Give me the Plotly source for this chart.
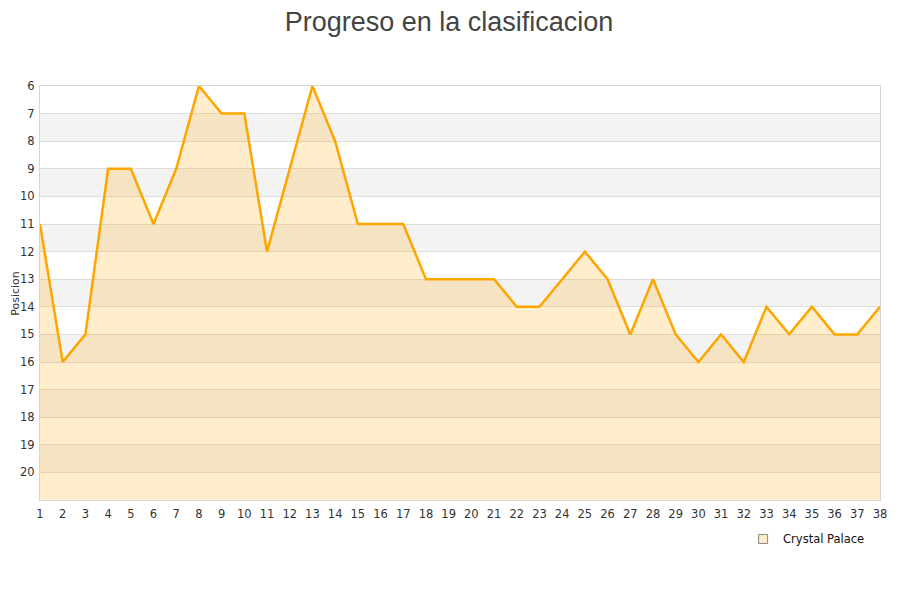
import plotly.graph_objects as go

# jornadas y posicion de Crystal Palace
jornadas = list(range(1, 39))
posicion = [11, 16, 15, 9, 9, 11, 9, 6, 7, 7, 12, 9, 6, 8, 11, 11, 11, 13, 13, 13,
            13, 14, 14, 13, 12, 13, 15, 13, 15, 16, 15, 16, 14, 15, 14, 15, 15, 14]
equipo = "Crystal Palace"
ticks_y = list(range(6, 21))
fondo_y = 21

fig = go.Figure()

# base para el relleno (parte inferior del eje)
fig.add_trace(go.Scatter(x=jornadas, y=[fondo_y] * len(jornadas), mode="lines",
                         line=dict(width=0), showlegend=False, hoverinfo="skip"))
fig.add_trace(go.Scatter(x=jornadas, y=posicion, mode="lines", fill="tonexty",
                         fillcolor="rgba(255,165,0,0.2)",
                         line=dict(color="#FFA500", width=2.5),
                         showlegend=False, name=equipo))
# entrada de leyenda
fig.add_trace(go.Scatter(x=[None], y=[None], mode="markers", name=equipo,
                         marker=dict(symbol="square", size=9, color="#FEEBC8",
                                     line=dict(color="#888", width=1))))

# bandas alternas
for b in range(7, 20, 2):
    fig.add_shape(type="rect", xref="paper", x0=0, x1=1, y0=b, y1=b + 1,
                  fillcolor="#F3F3F3", line=dict(width=0), layer="below")

# titulo del eje y
fig.add_annotation(text="Posicion", xref="paper", yref="paper", x=-0.030, y=0.5,
                   xanchor="center", yanchor="middle", textangle=-90, showarrow=False,
                   font=dict(size=11, color="#333"))

fig.update_layout(
    width=900, height=600,
    paper_bgcolor="white", plot_bgcolor="white",
    margin=dict(l=32, r=28, t=78, b=108, autoexpand=False),
    title=dict(text="Progreso en la clasificacion", x=0.49, xanchor="center",
               y=0.994, yanchor="top", automargin=False, pad=dict(t=0, b=0),
               font=dict(family="Liberation Sans, Arial", size=27, color="#444")),
    font=dict(family="DejaVu Sans", size=11.5, color="#333"),
    xaxis=dict(range=[1, 38], tickvals=jornadas, showgrid=False, automargin=False,
               showline=True, linecolor="#D6D6D6", mirror=True, ticklabelstandoff=3,
               ticks="", zeroline=False, tickfont=dict(size=11.5, color="#333")),
    yaxis=dict(range=[fondo_y, 6], tickvals=ticks_y, showgrid=True, automargin=False,
               gridcolor="#DDDDDD", gridwidth=1, showline=True, ticklabelstandoff=2,
               linecolor="#D6D6D6", mirror=True, ticks="", zeroline=False,
               tickfont=dict(size=11.5, color="#333")),
    legend=dict(orientation="h", x=0.837, xanchor="left", y=-0.059, yanchor="top",
                font=dict(size=11.5, color="#111"), bgcolor="rgba(0,0,0,0)"),
    showlegend=True,
)

fig.write_html("out.html")
